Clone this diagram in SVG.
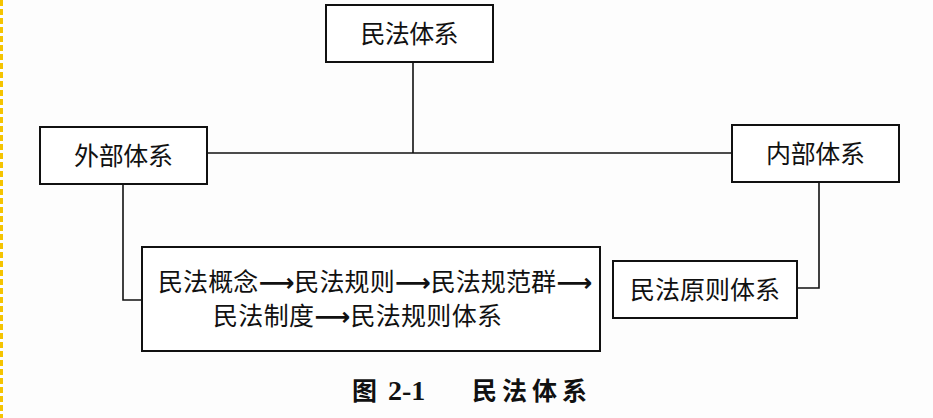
<svg xmlns="http://www.w3.org/2000/svg" width="933" height="418" viewBox="0 0 933 418">
<style>
.box{fill:#fff;stroke:#111;stroke-width:2}
.ln{fill:none;stroke:#111;stroke-width:1.6}
.t{font-family:"Noto Sans CJK SC","Noto Sans CJK JP",sans-serif;font-size:25px;fill:#111;text-anchor:middle}
.ar{font-weight:bold;font-family:"DejaVu Sans",sans-serif}
.cap{font-family:"Noto Sans CJK SC",sans-serif;font-size:25px;font-weight:bold;fill:#111}
</style>
<rect width="933" height="418" fill="#fdfdfd"/>
<line x1="1.5" y1="0" x2="1.5" y2="418" stroke="#f5c400" stroke-width="3" stroke-dasharray="6,3"/>
<g id="connectors">
<polyline class="ln" points="413,62 413,153"/>
<polyline class="ln" points="207,153 732,153"/>
<polyline class="ln" points="123,184 123,300 142,300"/>
<polyline class="ln" points="819,182 819,288 797,288"/>
</g>
<g id="n-root"><rect class="box" x="326" y="5" width="167" height="57"/><text class="t" x="409.5" y="43" textLength="98">民法体系</text></g>
<g id="n-outer"><rect class="box" x="40" y="127" width="167" height="57"/><text class="t" x="123.5" y="165" textLength="99">外部体系</text></g>
<g id="n-inner"><rect class="box" x="732" y="125" width="167" height="57"/><text class="t" x="815.5" y="163" textLength="99">内部体系</text></g>
<g id="n-principles"><rect class="box" x="613" y="261" width="184" height="57"/><text class="t" x="705" y="299" textLength="150">民法原则体系</text></g>
<g id="n-rules"><rect class="box" x="142" y="247" width="458" height="104"/>
<text class="t" x="375" y="291" textLength="434">民法概念<tspan class="ar">⟶</tspan>民法规则<tspan class="ar">⟶</tspan>民法规范群<tspan class="ar">⟶</tspan></text>
<text class="t" x="357.5" y="325" textLength="289">民法制度<tspan class="ar">⟶</tspan>民法规则体系</text>
</g>
<text class="cap" x="352" y="400">图<tspan x="388" font-family="Liberation Serif" font-size="28">2-1</tspan><tspan x="472" textLength="115">民法体系</tspan></text>
</svg>
